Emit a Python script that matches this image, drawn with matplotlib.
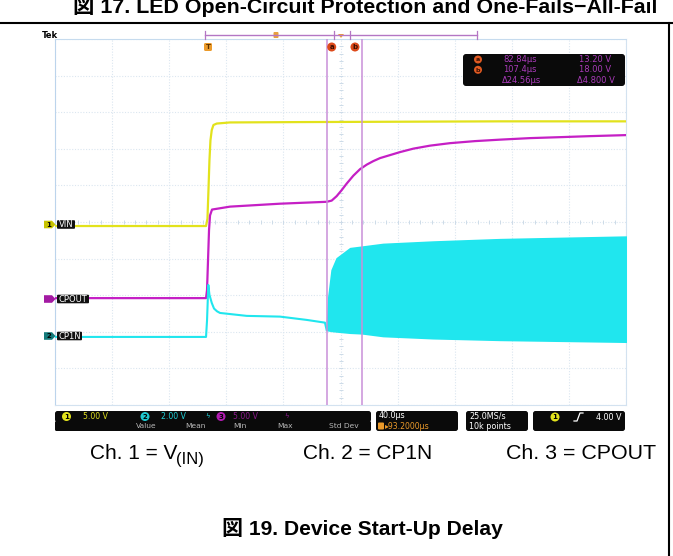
import numpy as np
import matplotlib
matplotlib.use("Agg")
import matplotlib.pyplot as plt
from matplotlib.patches import FancyBboxPatch, Circle, Polygon

W, H = 673, 556
SANS = ['Liberation Sans', 'Noto Sans CJK JP', 'DejaVu Sans']
SCOPE = ['DejaVu Sans']

# scope settings: us/div, V/div and ground marker position (div from centre)
TIME_DIV = 40.0
CH1_SCALE, CH1_POS = 5.0, -0.11
CH2_SCALE, CH2_POS = 2.0, -3.14
CH3_SCALE, CH3_POS = 5.0, -2.08

# Ch1 = VIN (us, V)
vin_t = [0, 105.8, 106.8, 107.5, 108.2, 108.9, 109.8, 111.0, 113.3, 122.6, 171.6, 241.7, 311.7, 400]
vin_v = [0, 0, 1.0, 4.9, 9.0, 11.7, 13.1, 13.8, 14.0, 14.15, 14.2, 14.25, 14.3, 14.3]

# Ch3 = CPOUT
cpout_t = [0, 105.8, 106.5, 107.2, 107.9, 108.6, 110.0, 122.6, 157.6, 190.3, 193.8, 197.3,
           200.8, 204.3, 209.0, 213.7, 218.4, 223.0, 227.7, 234.7, 241.7, 251.0, 262.7,
           276.7, 294.2, 311.7, 332.8, 353.8, 374.8, 400]
cpout_v = [0, 0, 1.1, 5.2, 9.3, 11.3, 12.1, 12.5, 12.9, 13.16, 13.32, 13.93,
           14.75, 15.64, 16.73, 17.62, 18.24, 18.72, 19.13, 19.54, 19.95, 20.42, 20.83,
           21.17, 21.45, 21.65, 21.86, 21.99, 22.13, 22.27]

# Ch2 = CP1N, before switching starts
cp1n_t = [0, 105.8, 106.5, 107.4, 108.2, 109.8, 111.4, 113.5, 115.6, 134.3, 157.6, 176.3, 189.1, 190.3]
cp1n_v = [0, 0, 0.9, 2.84, 2.3, 1.86, 1.55, 1.40, 1.31, 1.15, 1.11, 0.93, 0.78, 0.38]
# Ch2 switching envelope
sw_t = [190.3, 191.5, 193.8, 197.3, 206.7, 214.9, 229.8, 265.0, 311.7, 400]
sw_hi = [0.38, 2.19, 3.66, 4.30, 4.85, 4.93, 5.08, 5.21, 5.34, 5.48]
sw_lo = [0.38, 0.36, 0.33, 0.30, 0.23, 0.20, 0.05, -0.07, -0.16, -0.26]

CURSOR_T = [190.3, 214.9]
READOUT = [("a", "82.84µs", "13.20 V"), ("b", "107.4µs", "18.00 V"), ("", "Δ24.56µs", "Δ4.800 V")]

YELLOW, MAGENTA, CYAN = '#e2e21c', '#c51fc5', '#20e6ee'
CURSOR = '#c98fd8'


def to_div(v, scale, pos):
    return pos + np.asarray(v) / scale


fig = plt.figure(figsize=(W / 100, H / 100), dpi=100)

# ---- scope graticule ----
ax = fig.add_axes([55 / W, 1 - 405 / H, 571 / W, 366 / H])
ax.set_xlim(0, 10 * TIME_DIV)
ax.set_ylim(-5, 5)
ax.set_xticks(np.arange(0, 10 * TIME_DIV + 1, TIME_DIV))
ax.set_yticks(np.arange(-5, 6, 1))
ax.grid(True, color='#dbe6f0', lw=0.8, ls=(0, (1, 1.5)))
ax.tick_params(length=0, labelbottom=False, labelleft=False)
for s in ax.spines.values():
    s.set_color('#d3e2f0')
    s.set_linewidth(0.8)
ax.spines['left'].set_color('#bcd4ec')
ax.spines['top'].set_color('#c6dbee')
xt = np.arange(0, 10 * TIME_DIV + 0.1, TIME_DIV / 5)
ax.plot(xt, np.zeros_like(xt), ls='none', marker='|', ms=3, mew=0.7, color='#cddbe8')
yt = np.arange(-5, 5.01, 0.2)
ax.plot(np.full_like(yt, 5 * TIME_DIV), yt, ls='none', marker='_', ms=3, mew=0.7, color='#cddbe8')

ax.plot(vin_t, to_div(vin_v, CH1_SCALE, CH1_POS), color=YELLOW, lw=1.6, zorder=3)
ax.plot(cpout_t, to_div(cpout_v, CH3_SCALE, CH3_POS), color=MAGENTA, lw=1.6, zorder=3)
ax.plot(cp1n_t, to_div(cp1n_v, CH2_SCALE, CH2_POS), color=CYAN, lw=1.5, zorder=4)
ax.fill_between(sw_t, to_div(sw_lo, CH2_SCALE, CH2_POS), to_div(sw_hi, CH2_SCALE, CH2_POS),
                color=CYAN, lw=1.2, ec=CYAN, zorder=4)
for t in CURSOR_T:
    ax.axvline(t, color=CURSOR, lw=1.1, zorder=6)

# ---- overlay in pixel coordinates for the scope UI and page text ----
ov = fig.add_axes([0, 0, 1, 1])
ov.set_xlim(0, W)
ov.set_ylim(H, 0)
ov.axis('off')
ov.patch.set_alpha(0)


def rbox(x0, y0, x1, y1, fc='#0a0a0a', r=2.5):
    ov.add_patch(FancyBboxPatch((x0, y0), x1 - x0, y1 - y0,
                                boxstyle=f"round,pad=0,rounding_size={r}", fc=fc, ec='none'))


def badge(x, y, s, fc, tc='black', r=4.5, size=5):
    ov.add_patch(Circle((x, y), r, fc=fc, ec='none'))
    ov.text(x, y + 0.3, s, color=tc, fontsize=size, ha='center', va='center',
            family=SCOPE, fontweight='bold')


def stxt(x, y, s, color='white', size=5.6, ha='left', **kw):
    ov.text(x, y, s, color=color, fontsize=size, ha=ha, va='center', family=SCOPE, **kw)


# page frame and titles
ov.plot([0, W], [22.5, 22.5], color='black', lw=1.5)
ov.plot([669, 669], [22.5, H], color='black', lw=1.5)
ov.text(365, 13, "図 17. LED Open-Circuit Protection and One-Fails−All-Fail", fontsize=15.4,
        fontweight='bold', family=SANS, ha='center', va='baseline')
ov.text(90, 459, "Ch. 1 = V", fontsize=15, family=SANS, va='baseline')
ov.text(176, 464, "(IN)", fontsize=12, family=SANS, va='baseline')
ov.text(303, 459, "Ch. 2 = CP1N", fontsize=15, family=SANS, va='baseline')
ov.text(506, 459, "Ch. 3 = CPOUT", fontsize=15.4, family=SANS, va='baseline')
ov.text(362, 535, "図 19. Device Start-Up Delay", fontsize=15.1, fontweight='bold',
        family=SANS, ha='center', va='baseline')

# top status line
ov.text(42, 35, "Tek", fontsize=6, fontweight='bold', family=SCOPE, va='center')
ov.plot([205, 477], [35, 35], color='#b476c4', lw=1)
for x in (205, 477, 334, 350):
    ov.plot([x, x], [31, 39], color='#b476c4', lw=0.9)
ov.add_patch(Polygon([[338, 34], [344, 34], [341, 38]], fc='#f0a030', ec='none'))
ov.add_patch(FancyBboxPatch((273.5, 32), 5, 6, boxstyle="round,pad=0,rounding_size=1",
                            fc='#e8a040', ec='none'))
ov.add_patch(FancyBboxPatch((204, 43), 8, 8, boxstyle="round,pad=0,rounding_size=1.5",
                            fc='#eb9a2a', ec='none'))
ov.text(208, 47.3, "T", fontsize=5, fontweight='bold', ha='center', va='center',
        family=SCOPE, color='#5a3000')
badge(331.7, 47, "a", '#dd4a1a', tc='#3a0d00')
badge(355, 47, "b", '#dd4a1a', tc='#3a0d00')

# cursor readout
rbox(463, 54, 625, 86, r=3)
for i, (lab, tv, vv) in enumerate(READOUT):
    y = 59.5 + 10.3 * i
    if lab:
        badge(478, y, lab, '#e05a22', tc='#3a0d00', r=4, size=4.6)
    stxt(537 if lab else 541, y, tv, color='#a83ab8', size=6, ha='right')
    stxt(611 if lab else 615, y, vv, color='#a83ab8', size=6, ha='right')

# channel labels on the left edge
for y, lab, fc, num, w in [(224.5, "VIN", '#c8c400', "1", 18),
                           (299, "CPOUT", '#a31aa3', "", 32),
                           (336, "CP1N", '#147a7a', "2", 25)]:
    ov.add_patch(Polygon([[44, y - 3.8], [52, y - 3.8], [55.5, y], [52, y + 3.8], [44, y + 3.8]],
                         fc=fc, ec='none', zorder=7))
    if num:
        ov.text(48.5, y + 0.3, num, fontsize=5, fontweight='bold', ha='center', va='center',
                family=SCOPE, color='black', zorder=8)
    ov.add_patch(FancyBboxPatch((57, y - 4.3), w, 8.6, boxstyle="round,pad=0,rounding_size=1",
                                fc='#111111', ec='none', zorder=7))
    ov.text(57 + w / 2, y + 0.3, lab, fontsize=6, ha='center', va='center', family=SCOPE,
            color='white', zorder=8)

# bottom settings bar
rbox(55, 411, 371, 422, r=2.5)
rbox(55, 421, 371, 431, r=1.5)
badge(66.5, 416.5, "1", YELLOW, r=4.5)
stxt(83, 416.5, "5.00 V", color='#e0e020')
badge(145, 416.5, "2", '#1fc8d0', r=4.5)
stxt(161, 416.5, "2.00 V", color='#20d0d8')
stxt(205, 416.5, "ϟ", color='#20d0d8', size=5)
badge(221, 416.5, "3", '#b01ab0', r=4.5)
stxt(233, 416.5, "5.00 V", color='#8a1a8a')
stxt(284, 416.5, "ϟ", color='#8a1a8a', size=5)
for x, s in [(146, "Value"), (196, "Mean"), (240, "Min"), (285, "Max"), (344, "Std Dev")]:
    stxt(x, 426.5, s, color='#b8b8b8', ha='center', size=5.4)

rbox(376, 411, 458, 431, r=2.5)
stxt(379, 416, "40.0µs", size=5.8)
ov.add_patch(FancyBboxPatch((378, 422.5), 6, 7, boxstyle="round,pad=0,rounding_size=1",
                            fc='#eb9a2a', ec='none'))
stxt(385, 426.5, "▸93.2000µs", color='#eb9a2a', size=5.6)

rbox(466, 411, 528, 431, r=2.5)
stxt(469, 416, "25.0MS/s", size=5.8)
stxt(469, 426.5, "10k points", size=5.8)

rbox(533, 411, 625, 431, r=2.5)
badge(555, 417, "1", YELLOW, r=4.5)
ov.plot([574, 577, 580, 583], [421, 421, 413, 413], color='white', lw=0.9)
stxt(622, 417, "4.00 V", ha='right', size=5.8)

fig.savefig("out.png", dpi=100)
